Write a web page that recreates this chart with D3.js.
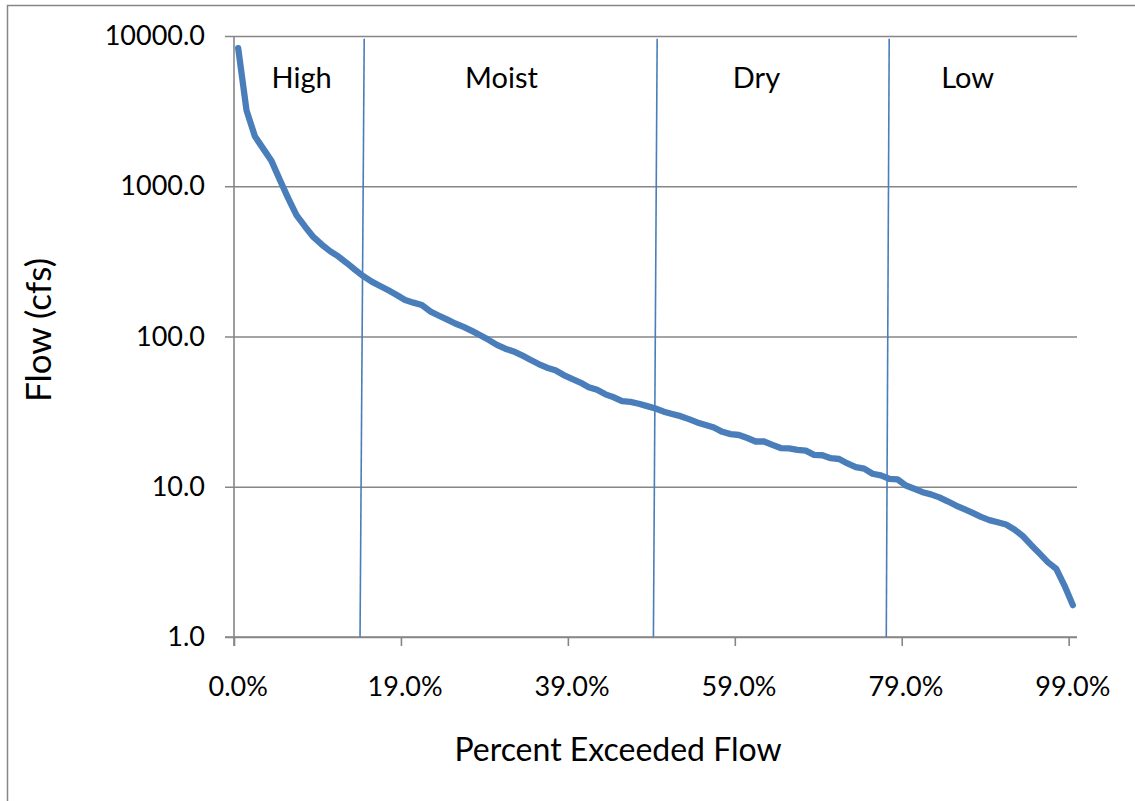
<!DOCTYPE html>
<html>
<head>
<meta charset="utf-8">
<script src="https://cdn.jsdelivr.net/npm/d3@7"></script>
<style>
body { margin: 0; background: #fff; }
text { font-family: Lato, "Open Sans", sans-serif; fill: #000; }
</style>
</head>
<body>
<div id="chart"></div>
<script>
// flow duration curve, one value per category (101 categories)
var flow = [8300, 3200, 2150, 1780, 1470, 1100, 830, 640, 540, 460,
  410, 370, 341, 309, 278, 252, 232, 217, 203, 189,
  175, 168, 162, 147, 138, 130, 122, 116, 109, 102,
  95, 88, 83, 79.5, 75, 70, 65.6, 62, 59.7, 55.4,
  52.2, 49.4, 46, 44.2, 41.2, 39.4, 37.1, 36.7, 35.7, 34.4,
  33.2, 31.6, 30.5, 29.5, 28.2, 26.8, 25.8, 24.8, 23.2, 22.4,
  22.1, 21.1, 20, 20, 19, 18.1, 18, 17.6, 17.4, 16.3,
  16.2, 15.5, 15.3, 14.3, 13.5, 13.2, 12.2, 11.9, 11.3, 11.2,
  10.2, 9.7, 9.2, 8.9, 8.5, 8.0, 7.5, 7.1, 6.7, 6.3,
  6.0, 5.8, 5.6, 5.2, 4.7, 4.1, 3.6, 3.15, 2.85, 2.2,
  1.63];
var tickCats = [0, 20, 40, 60, 80, 100];
var tickLabels = ["0.0%", "19.0%", "39.0%", "59.0%", "79.0%", "99.0%"];
var yTicks = [1, 10, 100, 1000, 10000];
var zones = ["High", "Moist", "Dry", "Low"];
var zoneAt = [8.1, 32.05, 62.6, 87.9];
var dividerTop = [15.6, 50.7, 78.5];
var dividerBottom = [15.1, 50.25, 78.15];

var W = 1135, H = 801;
var pl = 234, pt = 36, pr = 1077, pb = 637;
var grey = "#868686", blue = "#4a7ebb";

var svg = d3.select("#chart").append("svg").attr("width", W).attr("height", H);

svg.append("rect").attr("x", 7.5).attr("y", 5.5).attr("width", 1200).attr("height", 900)
  .attr("fill", "none").attr("stroke", grey).attr("stroke-width", 1.5);

var x = d3.scaleBand().domain(d3.range(flow.length)).range([pl, pr]).paddingInner(0).paddingOuter(0);
var xLin = d3.scaleLinear().domain([0, flow.length]).range([pl, pr]);
var y = d3.scaleLog().domain([1, 10000]).range([pb, pt]);

// horizontal gridlines + y labels
var gy = svg.append("g").attr("transform", `translate(${pl - 9},0)`)
  .call(d3.axisLeft(y).tickValues(yTicks).tickSize(-(pr - pl + 9)).tickPadding(20).tickFormat(d3.format(".1f")));
gy.select(".domain").remove();
gy.selectAll(".tick line").attr("stroke", grey).attr("stroke-width", 1.6);
gy.selectAll(".tick text").style("font-size", "27px").attr("fill", "#000");

// x tick marks at category boundaries
var gx = svg.append("g").attr("transform", `translate(0,${pb})`)
  .call(d3.axisBottom(xLin).tickValues(tickCats).tickSize(9).tickSizeOuter(0).tickFormat(""));
gx.select(".domain").remove();
gx.selectAll(".tick line").attr("stroke", grey).attr("stroke-width", 1.6);

// x labels centred on category
var gl = svg.append("g").attr("transform", `translate(0,${pb})`)
  .call(d3.axisBottom(x).tickValues(tickCats).tickSize(0).tickPadding(40).tickFormat((d, i) => tickLabels[i]));
gl.select(".domain").remove();
gl.selectAll(".tick text").style("font-size", "27px").attr("fill", "#000");

// axis lines
svg.append("line").attr("x1", pl).attr("x2", pl).attr("y1", pt).attr("y2", pb + 9).attr("stroke", grey).attr("stroke-width", 1.6);
svg.append("line").attr("x1", pl - 9).attr("x2", pr).attr("y1", pb).attr("y2", pb).attr("stroke", grey).attr("stroke-width", 1.6);

// zone dividers
svg.append("g").selectAll("line").data(dividerTop).join("line")
  .attr("x1", d => xLin(d)).attr("y1", y(9600))
  .attr("x2", (d, i) => xLin(dividerBottom[i])).attr("y2", y(1))
  .attr("stroke", blue).attr("stroke-width", 1.6);

// curve
var line = d3.line().x((d, i) => x(i) + x.bandwidth() / 2).y(d => y(d));
svg.append("path").datum(flow).attr("d", line).attr("fill", "none")
  .attr("stroke", blue).attr("stroke-width", 6.3).attr("stroke-linejoin", "round").attr("stroke-linecap", "round");

// zone labels
svg.append("g").selectAll("text").data(zones).join("text")
  .attr("x", (d, i) => xLin(zoneAt[i])).attr("y", 88).attr("text-anchor", "middle")
  .style("font-size", "29px").text(d => d);

// axis titles
svg.append("text").attr("x", 618).attr("y", 761).attr("text-anchor", "middle").style("font-size", "32px").text("Percent Exceeded Flow");
svg.append("text").attr("transform", "translate(51,330) rotate(-90)").attr("text-anchor", "middle").style("font-size", "35px").text("Flow (cfs)");
</script>
</body>
</html>
